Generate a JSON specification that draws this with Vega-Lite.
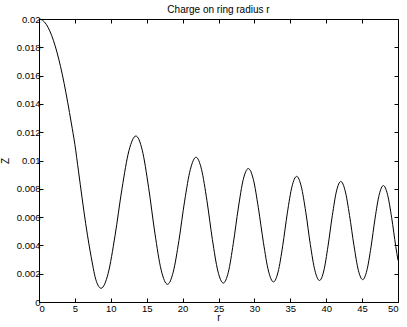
{
  "$schema": "https://vega.github.io/schema/vega-lite/v6.json",
  "width": 359,
  "height": 283,
  "autosize": {"type": "none"},
  "padding": {"left": 39, "top": 19, "right": 9, "bottom": 25},
  "background": "white",
  "title": {"text": "Charge on ring radius r", "font": "Liberation Sans", "fontSize": 10, "fontWeight": "normal", "color": "black", "anchor": "middle", "offset": -1},
  "config": {
    "view": {"stroke": "black", "strokeWidth": 1},
    "axis": {"labelFont": "Liberation Sans", "labelFontSize": 9.5, "labelColor": "black", "titleFont": "Liberation Sans", "titleFontSize": 10, "titleFontWeight": "normal", "titleColor": "black", "grid": false, "domain": false, "tickColor": "black", "tickSize": -4, "tickWidth": 1}
  },
  "data": {"values": [
    {"r": 0, "Z": 0.02}, {"r": 0.5, "Z": 0.01991}, {"r": 1, "Z": 0.01963}, {"r": 1.5, "Z": 0.01916}, {"r": 2, "Z": 0.0185}, {"r": 2.5, "Z": 0.01766}, {"r": 3, "Z": 0.01664}, {"r": 3.5, "Z": 0.01545}, {"r": 4, "Z": 0.0141}, {"r": 4.5, "Z": 0.01265}, {"r": 5, "Z": 0.01112}, {"r": 5.5, "Z": 0.00925}, {"r": 6, "Z": 0.00735}, {"r": 6.5, "Z": 0.00555}, {"r": 7, "Z": 0.00395}, {"r": 7.5, "Z": 0.00255}, {"r": 7.8, "Z": 0.0018}, {"r": 8.2, "Z": 0.0012}, {"r": 8.65, "Z": 0.00097},
    {"r": 9.62, "Z": 0.002}, {"r": 10.59, "Z": 0.00469}, {"r": 11.56, "Z": 0.00801}, {"r": 12.53, "Z": 0.0107}, {"r": 13.5, "Z": 0.01173},
    {"r": 14.38, "Z": 0.01073}, {"r": 15.26, "Z": 0.00811}, {"r": 16.14, "Z": 0.00487}, {"r": 17.02, "Z": 0.00225}, {"r": 17.9, "Z": 0.00125},
    {"r": 18.69, "Z": 0.00211}, {"r": 19.49, "Z": 0.00435}, {"r": 20.28, "Z": 0.00713}, {"r": 21.08, "Z": 0.00937}, {"r": 21.87, "Z": 0.01023},
    {"r": 22.63, "Z": 0.00938}, {"r": 23.39, "Z": 0.00716}, {"r": 24.15, "Z": 0.00441}, {"r": 24.91, "Z": 0.00219}, {"r": 25.67, "Z": 0.00134},
    {"r": 26.37, "Z": 0.00211}, {"r": 27.06, "Z": 0.00414}, {"r": 27.76, "Z": 0.00664}, {"r": 28.45, "Z": 0.00866}, {"r": 29.15, "Z": 0.00943},
    {"r": 29.85, "Z": 0.00867}, {"r": 30.55, "Z": 0.00666}, {"r": 31.26, "Z": 0.00419}, {"r": 31.96, "Z": 0.00219}, {"r": 32.66, "Z": 0.00142},
    {"r": 33.3, "Z": 0.00213}, {"r": 33.95, "Z": 0.004}, {"r": 34.59, "Z": 0.0063}, {"r": 35.24, "Z": 0.00817}, {"r": 35.88, "Z": 0.00888},
    {"r": 36.52, "Z": 0.00818}, {"r": 37.16, "Z": 0.00634}, {"r": 37.79, "Z": 0.00406}, {"r": 38.43, "Z": 0.00222}, {"r": 39.07, "Z": 0.00152},
    {"r": 39.66, "Z": 0.00219}, {"r": 40.25, "Z": 0.00394}, {"r": 40.85, "Z": 0.0061}, {"r": 41.44, "Z": 0.00785}, {"r": 42.03, "Z": 0.00852},
    {"r": 42.64, "Z": 0.00786}, {"r": 43.25, "Z": 0.00612}, {"r": 43.87, "Z": 0.00398}, {"r": 44.48, "Z": 0.00224}, {"r": 45.09, "Z": 0.00158},
    {"r": 45.66, "Z": 0.00222}, {"r": 46.24, "Z": 0.00388}, {"r": 46.81, "Z": 0.00593}, {"r": 47.39, "Z": 0.0076}, {"r": 47.96, "Z": 0.00823},
    {"r": 48.54, "Z": 0.0076}, {"r": 49.12, "Z": 0.00595}, {"r": 49.69, "Z": 0.00392}, {"r": 50, "Z": 0.00295}
  ]},
  "layer": [
    {
      "mark": {"type": "line", "color": "black", "strokeWidth": 1, "interpolate": "monotone"},
      "encoding": {
        "x": {"field": "r", "type": "quantitative", "scale": {"domain": [0, 50], "nice": false, "zero": false}, "axis": {"orient": "bottom", "values": [0,5,10,15,20,25,30,35,40,45,50], "title": "r", "labelPadding": 5, "titlePadding": 0}},
        "y": {"field": "Z", "type": "quantitative", "scale": {"domain": [0, 0.02], "nice": false}, "axis": {"orient": "left", "values": [0,0.002,0.004,0.006,0.008,0.01,0.012,0.014,0.016,0.018,0.02], "labelExpr": "format(datum.value, '~g')", "title": "Z", "labelPadding": 3, "titlePadding": 6}}
      }
    },
    {
      "mark": {"type": "line", "strokeOpacity": 0, "interpolate": "monotone"},
      "encoding": {
        "x": {"field": "r", "type": "quantitative", "axis": {"orient": "top", "values": [0,5,10,15,20,25,30,35,40,45,50], "labels": false, "title": null}},
        "y": {"field": "Z", "type": "quantitative", "axis": {"orient": "right", "values": [0,0.002,0.004,0.006,0.008,0.01,0.012,0.014,0.016,0.018,0.02], "labels": false, "title": null}}
      }
    }
  ],
  "resolve": {"axis": {"x": "independent", "y": "independent"}}
}
